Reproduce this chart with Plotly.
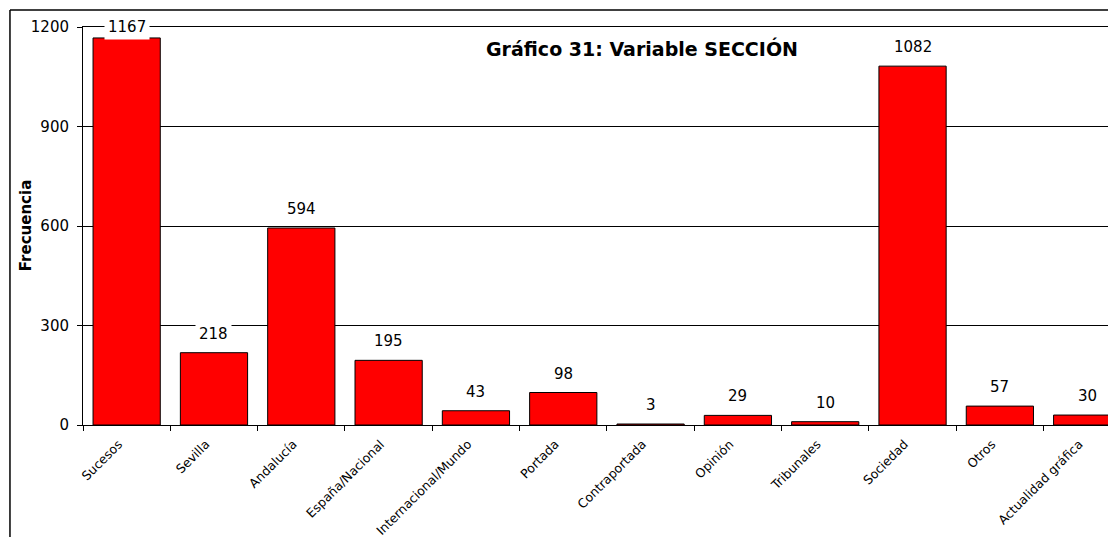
import plotly.graph_objects as go

categories = ["Sucesos", "Sevilla", "Andalucía", "España/Nacional", "Internacional/Mundo",
              "Portada", "Contraportada", "Opinión", "Tribunales", "Sociedad", "Otros",
              "Actualidad gráfica"]
values = [1167, 218, 594, 195, 43, 98, 3, 29, 10, 1082, 57, 30]
y_ticks = [0, 300, 600, 900, 1200]
title_text = "Gráfico 31: Variable SECCIÓN"
y_title = "Frecuencia"

FONT = "DejaVu Sans"
YMAX = 1200
LABEL_OFFSET = 57

fig = go.Figure()
fig.add_trace(go.Bar(
    x=categories, y=values,
    marker=dict(color="#FF0000", line=dict(color="black", width=1)),
    width=0.77,
    hoverinfo="x+y",
))

for c, v in zip(categories, values):
    fig.add_annotation(
        x=c, y=min(v + LABEL_OFFSET, YMAX), text=str(v), showarrow=False,
        font=dict(family=FONT, size=15, color="black"),
        bgcolor="white", xanchor="center", yanchor="middle",
        borderpad=3,
    )

fig.add_annotation(
    x=0.541, y=0.947, xref="paper", yref="paper", text="<b>%s</b>" % title_text,
    showarrow=False, font=dict(family=FONT, size=19, color="black"),
    xanchor="center", yanchor="middle",
)

fig.add_annotation(
    x=-0.055, y=0.5, xref="paper", yref="paper", text="<b>%s</b>" % y_title,
    showarrow=False, font=dict(family=FONT, size=15, color="black"),
    textangle=-90, xanchor="center", yanchor="middle",
)

# outer chart border (left and top edges visible)
fig.add_shape(type="line", xref="paper", yref="paper",
              x0=-0.0707, x1=-0.0707, y0=1.0427, y1=-1.0, line=dict(color="black", width=1.5))
fig.add_shape(type="line", xref="paper", yref="paper",
              x0=-0.0707, x1=1.1, y0=1.0427, y1=1.0427, line=dict(color="black", width=1.5))

fig.update_layout(
    width=1108, height=529,
    margin=dict(l=75, r=0, t=19, b=112, autoexpand=False),
    paper_bgcolor="white", plot_bgcolor="white",
    showlegend=False,
    bargap=0.23,
    font=dict(family=FONT, size=15, color="black"),
)
fig.update_xaxes(
    type="category", range=[-0.5, 11.33],
    tickangle=-45, tickfont=dict(family=FONT, size=12.5),
    tickson="boundaries", ticks="outside", ticklen=5, tickcolor="black",
    ticklabelstandoff=6, ticklabelshift=-8, automargin=False,
    showline=True, linecolor="black", linewidth=1, mirror=True,
    showgrid=False, fixedrange=True,
)
fig.update_yaxes(
    range=[0, YMAX], tickvals=y_ticks,
    tickfont=dict(family=FONT, size=15),
    ticks="outside", ticklen=5, tickcolor="black",
    ticklabelstandoff=5, automargin=False,
    showline=True, linecolor="black", linewidth=1,
    showgrid=True, gridcolor="black", gridwidth=1,
    zeroline=False, fixedrange=True,
)

fig.write_html("out.html")
